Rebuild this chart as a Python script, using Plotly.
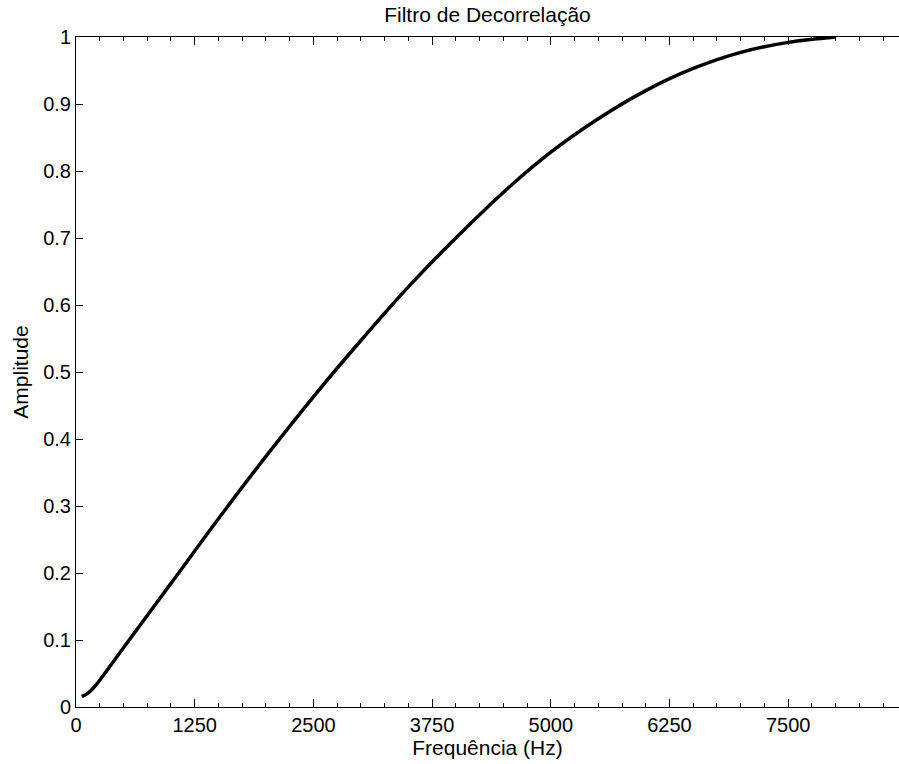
import plotly.graph_objects as go

# Magnitude response of the decorrelation filter (normalised)
freq_hz = [60, 120, 180, 250, 500, 1000, 1500, 2000, 2500, 3000, 3500, 4000,
           4500, 5000, 5500, 6000, 6500, 7000, 7500, 8000]
amplitude = [0.016, 0.020, 0.028, 0.040, 0.0885, 0.1845, 0.281, 0.374, 0.463,
             0.547, 0.627, 0.700, 0.768, 0.828, 0.878, 0.920, 0.953, 0.977,
             0.992, 1.0]

x_tick_vals = [0, 1250, 2500, 3750, 5000, 6250, 7500]
x_tick_text = ["0", "1250", "2500", "3750", "5000", "6250", "7500"]
y_tick_vals = [0, 0.1, 0.2, 0.3, 0.4, 0.5, 0.6, 0.7, 0.8, 0.9, 1.0]
y_tick_text = ["0", "0.1", "0.2", "0.3", "0.4", "0.5", "0.6", "0.7", "0.8", "0.9", "1"]

FONT = "Liberation Sans, Arial, Helvetica, sans-serif"

fig = go.Figure(
    go.Scatter(
        x=freq_hz,
        y=amplitude,
        mode="lines",
        line=dict(color="black", width=3.5, shape="spline", smoothing=1.0),
        showlegend=False,
        hoverinfo="skip",
    )
)

fig.update_layout(
    width=899,
    height=764,
    margin=dict(l=76, r=0, t=37, b=57),
    paper_bgcolor="white",
    plot_bgcolor="white",
    font=dict(family=FONT, size=20, color="black"),
    title=dict(
        text="Filtro de Decorrelação",
        font=dict(family=FONT, size=21, color="black"),
        x=(76 + 899) / 2 / 899,
        xanchor="center",
        y=1 - 15 / 764,
        yanchor="middle",
    ),
)

fig.update_xaxes(
    range=[0, 8667],
    tickmode="array",
    tickvals=x_tick_vals,
    ticktext=x_tick_text,
    ticks="inside",
    ticklen=8,
    tickwidth=1,
    tickcolor="black",
    minor=dict(dtick=250, tick0=0, ticks="inside", ticklen=4, tickwidth=1, tickcolor="black"),
    showline=True,
    linecolor="black",
    linewidth=1,
    mirror="ticks",
    showgrid=False,
    zeroline=False,
    tickfont=dict(family=FONT, size=20, color="black"),
    title=dict(text="Frequência (Hz)", font=dict(family=FONT, size=21, color="black"), standoff=4),
)

fig.update_yaxes(
    range=[0, 1],
    tickmode="array",
    tickvals=y_tick_vals,
    ticktext=y_tick_text,
    ticks="inside",
    ticklen=7,
    tickwidth=1,
    tickcolor="black",
    showline=True,
    linecolor="black",
    linewidth=1,
    mirror=False,
    showgrid=False,
    zeroline=False,
    tickfont=dict(family=FONT, size=20, color="black"),
    title=dict(text="Amplitude", font=dict(family=FONT, size=21, color="black"), standoff=8),
)

fig.write_html("out.html")
